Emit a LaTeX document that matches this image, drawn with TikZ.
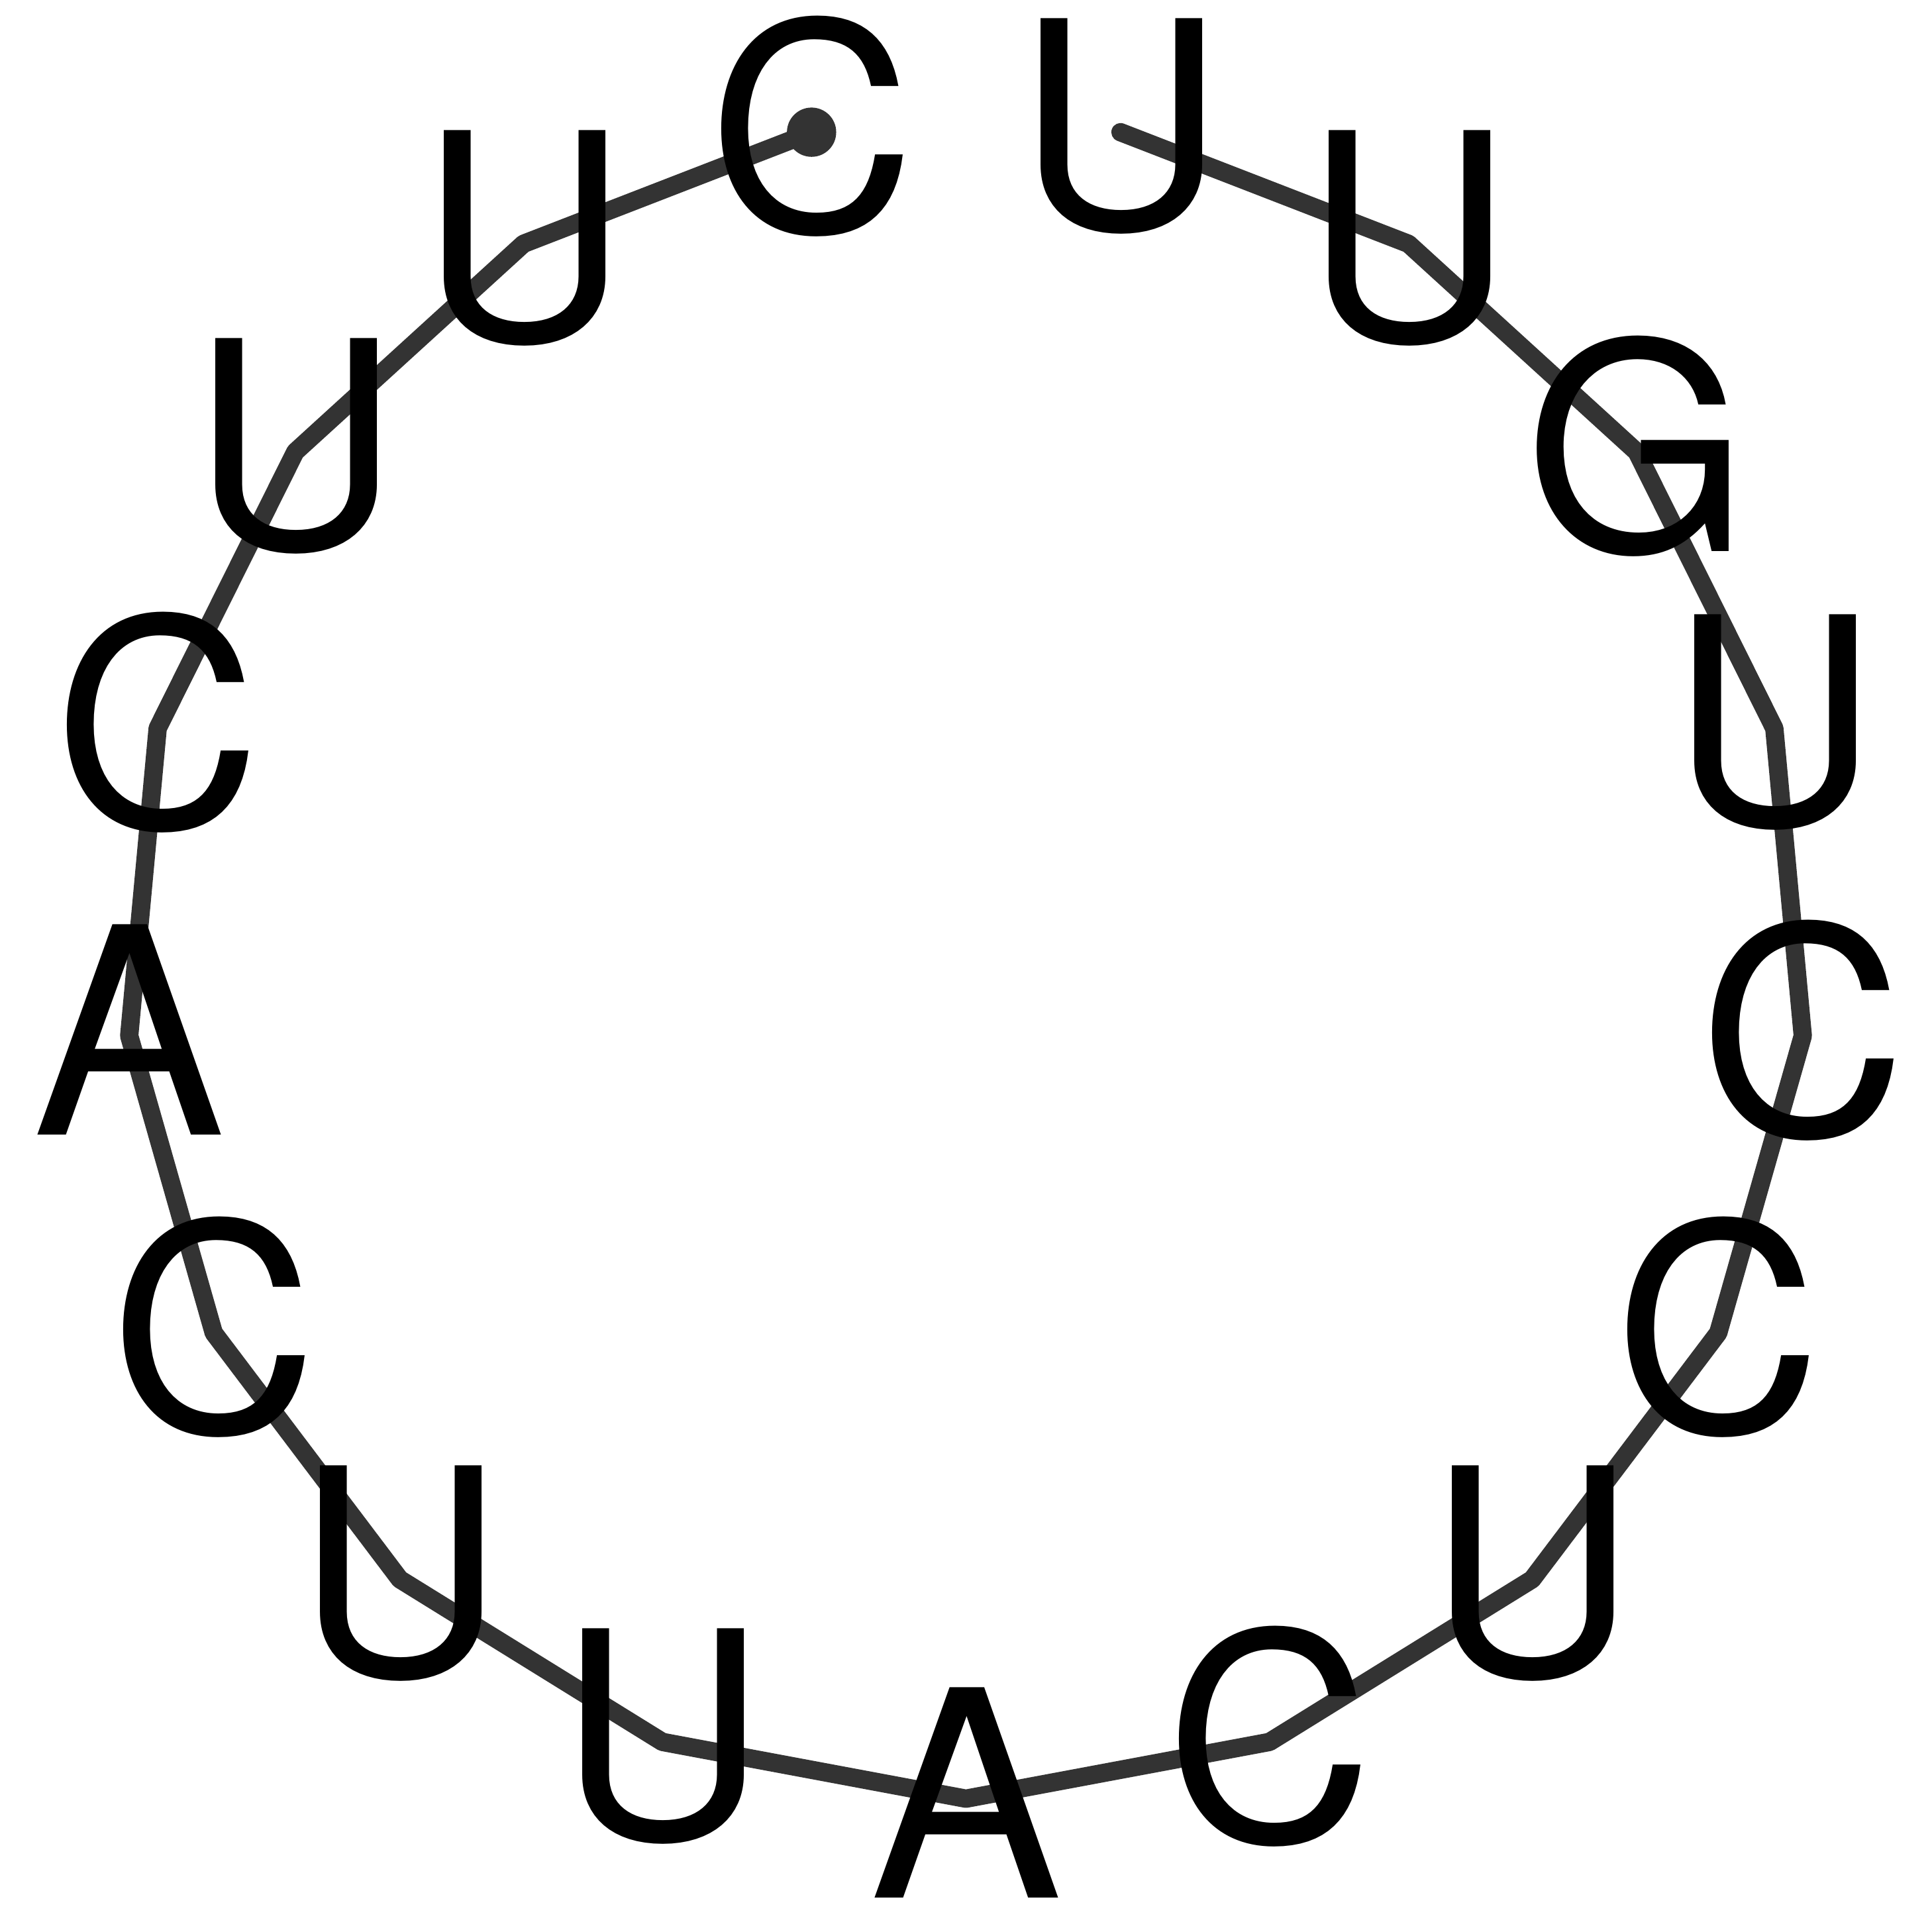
\documentclass[tikz,border=0pt]{standalone}
\usepackage{fontspec}
\setmainfont{TeX Gyre Heros}
\usetikzlibrary{calc}
\definecolor{bbGray}{RGB}{51,51,51}

\begin{document}
\begin{tikzpicture}
    \tikzset{
      base/.style={inner sep=0pt, font=\fontsize{85}{85}\selectfont, yshift=0.06cm},
      backbone/.style={bbGray, line width=5.4pt, line join=round, line cap=round},
    }
    \useasboundingbox (-10,-10) rectangle (10,10);

    % nucleotides round the loop, 5' end at the top
    \foreach \nt [count=\i] in {C,U,U,C,A,C,U,U,A,C,U,C,C,U,G,U,U}
      \coordinate (p\i) at ($(0,0.08)+({100.59+(\i-1)*21.176}:8.70)$);

    % backbone
    \draw[backbone] (p1) \foreach \i in {2,...,17}{ -- (p\i)};

    % letters
    \foreach \nt [count=\i] in {C,U,U,C,A,C,U,U,A,C,U,C,C,U,G,U,U}
      \node[base] (n\i) at (p\i) {\nt};

    % 5' marker
    \fill[bbGray] (p1) circle (0.255);
\end{tikzpicture}
\end{document}
